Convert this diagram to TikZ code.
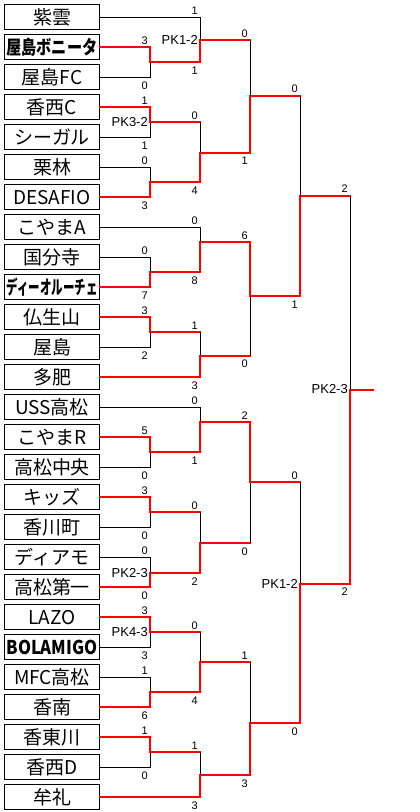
\documentclass[tikz,border=0pt]{standalone}
\usepackage{fontspec}
\setmainfont{Liberation Sans}
\newfontfamily\jp{Noto Sans CJK JP}
\usepackage{graphicx}
\newcommand\nm[1]{\setbox0=\hbox{#1}\ifdim\wd0>91pt\resizebox{91pt}{\height}{\box0}\else\box0\fi}
\newcommand\Wl[2]{\draw[win] (#1) -- (#1 -| #2) -- (#2);}
\newcommand\Lt[2]{\draw[lose] (#1) -- (#1 -| #2) -- (#2);}
\newcommand\Lm[2]{\draw[win] (#1) -- (#1 -| #2);\draw[lose] (#1 -| #2) -- (#2);}
\tikzset{
  team/.style={draw, line width=1pt, minimum width=95pt, minimum height=24.4pt, inner sep=0pt,
    text height=15.5pt, text depth=1.5pt, font=\jp\fontsize{19pt}{19pt}\selectfont},
  win/.style={draw=red, line width=2pt, line cap=rect, line join=miter},
  lose/.style={draw=black, line width=1pt, line join=miter},
  scoreT/.style={anchor=base east, inner sep=0pt, xshift=-2pt, yshift=3pt, font=\fontsize{11pt}{11pt}\selectfont},
  scoreB/.style={anchor=north east, inner sep=0pt, xshift=-2pt, yshift=-4.5pt, font=\fontsize{11pt}{11pt}\selectfont},
  pk/.style={anchor=east, inner sep=0pt, xshift=-2pt, font=\fontsize{13pt}{13pt}\selectfont}
}
\begin{document}
\begin{tikzpicture}[x=1pt,y=-1pt]
\useasboundingbox[fill=white] (0,0) rectangle (420,812);
% teams
\node[team] (t0)  at (52,17)  {\nm{紫雲}};
\node[team] (t1)  at (52,47)  {\nm{\bfseries 屋島ボニータ}};
\node[team] (t2)  at (52,77)  {\nm{屋島FC}};
\node[team] (t3)  at (52,107) {\nm{香西C}};
\node[team] (t4)  at (52,137) {\nm{シーガル}};
\node[team] (t5)  at (52,167) {\nm{栗林}};
\node[team] (t6)  at (52,197) {\nm{DESAFIO}};
\node[team] (t7)  at (52,227) {\nm{こやまA}};
\node[team] (t8)  at (52,257) {\nm{国分寺}};
\node[team] (t9)  at (52,287) {\nm{\bfseries ディーオルーチェ}};
\node[team] (t10) at (52,317) {\nm{仏生山}};
\node[team] (t11) at (52,347) {\nm{屋島}};
\node[team] (t12) at (52,377) {\nm{多肥}};
\node[team] (t13) at (52,407) {\nm{USS高松}};
\node[team] (t14) at (52,437) {\nm{こやまR}};
\node[team] (t15) at (52,467) {\nm{高松中央}};
\node[team] (t16) at (52,497) {\nm{キッズ}};
\node[team] (t17) at (52,527) {\nm{香川町}};
\node[team] (t18) at (52,557) {\nm{ディアモ}};
\node[team] (t19) at (52,587) {\nm{高松第一}};
\node[team] (t20) at (52,617) {\nm{LAZO}};
\node[team] (t21) at (52,647) {\nm{\bfseries BOLAMIGO}};
\node[team] (t22) at (52,677) {\nm{MFC高松}};
\node[team] (t23) at (52,707) {\nm{香南}};
\node[team] (t24) at (52,737) {\nm{香東川}};
\node[team] (t25) at (52,767) {\nm{香西D}};
\node[team] (t26) at (52,797) {\nm{牟礼}};
% match points
\coordinate (m1) at (150,62);
\coordinate (m2) at (200,40);
\coordinate (m3) at (150,122);
\coordinate (m4) at (150,182);
\coordinate (m5) at (200,152.5);
\coordinate (m6) at (250,95.5);
\coordinate (m7) at (150,272);
\coordinate (m8) at (200,242);
\coordinate (m9) at (150,332);
\coordinate (m10) at (200,355.5);
\coordinate (m11) at (250,296);
\coordinate (m12) at (300,195.5);
\coordinate (fin) at (350,389.5);
\coordinate (champ) at (373,389.5);
\coordinate (m13) at (150,452);
\coordinate (m14) at (200,422);
\coordinate (m15) at (150,512);
\coordinate (m16) at (150,573);
\coordinate (m17) at (200,543);
\coordinate (m18) at (250,482);
\coordinate (m19) at (150,632);
\coordinate (m20) at (150,692);
\coordinate (m21) at (200,662);
\coordinate (m22) at (150,752);
\coordinate (m23) at (200,775);
\coordinate (m24) at (250,723);
\coordinate (m25) at (300,583.5);
% losing legs
\Lt{t2.east}{m1}
\Lt{t0.east}{m2}
\Lt{t4.east}{m3}
\Lt{t5.east}{m4}
\Lm{m3}{m5}
\Lm{m2}{m6}
\Lt{t8.east}{m7}
\Lt{t7.east}{m8}
\Lt{t11.east}{m9}
\Lm{m9}{m10}
\Lm{m10}{m11}
\Lm{m6}{m12}
\Lm{m12}{fin}
\Lt{t15.east}{m13}
\Lt{t13.east}{m14}
\Lt{t17.east}{m15}
\Lt{t18.east}{m16}
\Lm{m15}{m17}
\Lm{m17}{m18}
\Lt{t21.east}{m19}
\Lt{t22.east}{m20}
\Lm{m19}{m21}
\Lt{t25.east}{m22}
\Lm{m22}{m23}
\Lm{m21}{m24}
\Lm{m18}{m25}
% winning legs
\Wl{t1.east}{m1}
\Wl{m1}{m2}
\Wl{t3.east}{m3}
\Wl{t6.east}{m4}
\Wl{m4}{m5}
\Wl{m5}{m6}
\Wl{t9.east}{m7}
\Wl{m7}{m8}
\Wl{t10.east}{m9}
\Wl{t12.east}{m10}
\Wl{m8}{m11}
\Wl{m11}{m12}
\Wl{m25}{fin}
\Wl{t14.east}{m13}
\Wl{m13}{m14}
\Wl{t16.east}{m15}
\Wl{t19.east}{m16}
\Wl{m16}{m17}
\Wl{m14}{m18}
\Wl{t20.east}{m19}
\Wl{t23.east}{m20}
\Wl{m20}{m21}
\Wl{t24.east}{m22}
\Wl{t26.east}{m23}
\Wl{m23}{m24}
\Wl{m24}{m25}
\draw[win] (fin) -- (champ);
% scores
\node[scoreT] (s1t) at (t1.east -| m1) {3};
\node[scoreB] (s1b) at (t2.east -| m1) {0};
\node[scoreT] (s2t) at (t0.east -| m2) {1};
\node[scoreB] (s2b) at (m1 -| m2) {1};
\node[pk] (p2) at (m2) {PK1-2};
\node[scoreT] (s3t) at (t3.east -| m3) {1};
\node[scoreB] (s3b) at (t4.east -| m3) {1};
\node[pk] (p3) at (m3) {PK3-2};
\node[scoreT] (s4t) at (t5.east -| m4) {0};
\node[scoreB] (s4b) at (t6.east -| m4) {3};
\node[scoreT] (s5t) at (m3 -| m5) {0};
\node[scoreB] (s5b) at (m4 -| m5) {4};
\node[scoreT] (s6t) at (m2 -| m6) {0};
\node[scoreB] (s6b) at (m5 -| m6) {1};
\node[scoreT] (s7t) at (t8.east -| m7) {0};
\node[scoreB] (s7b) at (t9.east -| m7) {7};
\node[scoreT] (s8t) at (t7.east -| m8) {0};
\node[scoreB] (s8b) at (m7 -| m8) {8};
\node[scoreT] (s9t) at (t10.east -| m9) {3};
\node[scoreB] (s9b) at (t11.east -| m9) {2};
\node[scoreT] (s10t) at (m9 -| m10) {1};
\node[scoreB] (s10b) at (t12.east -| m10) {3};
\node[scoreT] (s11t) at (m8 -| m11) {6};
\node[scoreB] (s11b) at (m10 -| m11) {0};
\node[scoreT] (s12t) at (m6 -| m12) {0};
\node[scoreB] (s12b) at (m11 -| m12) {1};
\node[scoreT] (sft) at (m12 -| fin) {2};
\node[scoreB] (sfb) at (m25 -| fin) {2};
\node[pk] (pf) at (fin) {PK2-3};
\node[scoreT] (s13t) at (t14.east -| m13) {5};
\node[scoreB] (s13b) at (t15.east -| m13) {0};
\node[scoreT] (s14t) at (t13.east -| m14) {0};
\node[scoreB] (s14b) at (m13 -| m14) {1};
\node[scoreT] (s15t) at (t16.east -| m15) {3};
\node[scoreB] (s15b) at (t17.east -| m15) {0};
\node[scoreT] (s16t) at (t18.east -| m16) {0};
\node[scoreB] (s16b) at (t19.east -| m16) {0};
\node[pk] (p16) at (m16) {PK2-3};
\node[scoreT] (s17t) at (m15 -| m17) {0};
\node[scoreB] (s17b) at (m16 -| m17) {2};
\node[scoreT] (s18t) at (m14 -| m18) {2};
\node[scoreB] (s18b) at (m17 -| m18) {0};
\node[scoreT] (s19t) at (t20.east -| m19) {3};
\node[scoreB] (s19b) at (t21.east -| m19) {3};
\node[pk] (p19) at (m19) {PK4-3};
\node[scoreT] (s20t) at (t22.east -| m20) {1};
\node[scoreB] (s20b) at (t23.east -| m20) {6};
\node[scoreT] (s21t) at (m19 -| m21) {0};
\node[scoreB] (s21b) at (m20 -| m21) {4};
\node[scoreT] (s22t) at (t24.east -| m22) {1};
\node[scoreB] (s22b) at (t25.east -| m22) {0};
\node[scoreT] (s23t) at (m22 -| m23) {1};
\node[scoreB] (s23b) at (t26.east -| m23) {3};
\node[scoreT] (s24t) at (m21 -| m24) {1};
\node[scoreB] (s24b) at (m23 -| m24) {3};
\node[scoreT] (s25t) at (m18 -| m25) {0};
\node[scoreB] (s25b) at (m24 -| m25) {0};
\node[pk] (p25) at (m25) {PK1-2};
\end{tikzpicture}
\end{document}
